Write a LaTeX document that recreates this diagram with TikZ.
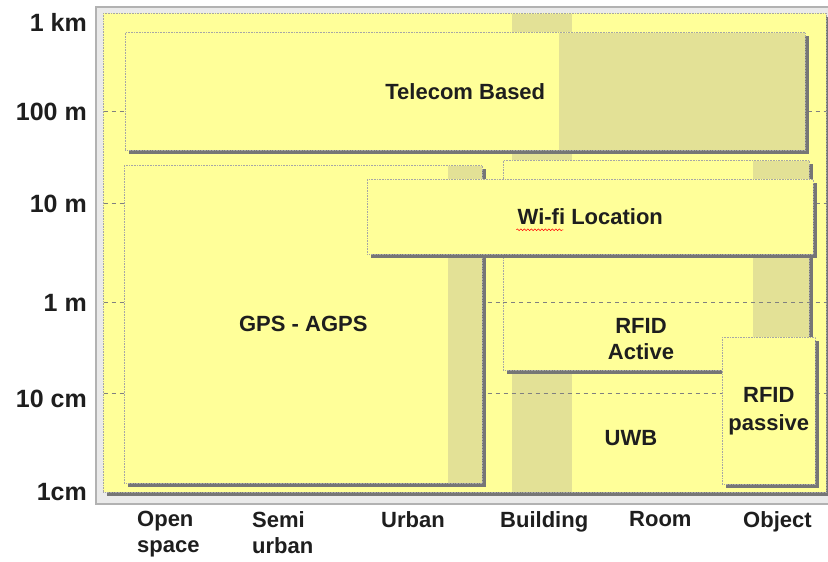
\documentclass[tikz,border=0pt]{standalone}
\usepackage{fontspec}
\setmainfont{Liberation Sans}
\usepackage{xcolor}
\usetikzlibrary{shadows}
\usetikzlibrary{calc}
\usetikzlibrary{decorations.pathmorphing}
\definecolor{chartyellow}{RGB}{255,255,153}
\definecolor{chartkhaki}{RGB}{227,225,150}
\definecolor{shadowgray}{RGB}{118,118,118}
\definecolor{framegray}{RGB}{234,234,234}
\definecolor{labelink}{RGB}{30,30,30}
\tikzstyle{techbox} = [rectangle, anchor=north west, inner sep=0pt, draw=gray!70, densely dotted, line width=0.6pt, fill=chartyellow, drop shadow={shadow xshift=3.2pt, shadow yshift=-3.2pt, fill=shadowgray, opacity=1}, font=\fontsize{22}{28}\selectfont\bfseries, text=labelink, align=center]
\tikzstyle{boxlabel} = [inner sep=0pt, font=\fontsize{22}{26}\selectfont\bfseries, text=labelink, align=center]
\tikzstyle{axislabel} = [anchor=east, inner sep=0pt, font=\fontsize{25}{29}\selectfont\bfseries, text=labelink]
\tikzstyle{classlabel} = [anchor=north west, inner sep=0pt, font=\fontsize{22}{26}\selectfont\bfseries, text=labelink, align=left]
\tikzstyle{gridline} = [draw=gray, line width=0.8pt, dash pattern=on 4pt off 4pt]

\begin{document}
\begin{tikzpicture}[x=1pt, y=-1pt]
    \useasboundingbox (0,0) rectangle (828,562);

    % frame and plot area
    \fill[white] (0,0) rectangle (828,562);
    \draw[fill=framegray, draw=gray!60, line width=1.5pt] (96,7) rectangle (840,504);
    \node (panel) [techbox, minimum width=723pt, minimum height=479pt] at (103,13) {};
    \fill[chartkhaki] (512,13.5) rectangle (572,492);

    % range levels
    \foreach \level in {111,203,302,393}
        \draw[gridline] (103.5,\level) -- (825.5,\level);

    % technologies
    \node (telecom) [techbox, minimum width=680pt, minimum height=118pt] at (125,32) {Telecom Based};
    \fill[chartkhaki] ([xshift=-247pt,yshift=-0.5pt]telecom.north east) rectangle ([shift={(-0.5pt,0.5pt)}]telecom.south east);

    \node (gps) [techbox, minimum width=358pt, minimum height=318pt] at (124,165) {GPS - AGPS};
    \fill[chartkhaki] ([xshift=-35pt,yshift=-0.5pt]gps.north east) rectangle ([shift={(-0.5pt,0.5pt)}]gps.south east);

    \node (rfidact) [techbox, minimum width=306pt, minimum height=210pt] at (503,160) {};
    \fill[chartkhaki] ([xshift=-57pt,yshift=-0.5pt]rfidact.north east) rectangle ([shift={(-0.5pt,0.5pt)}]rfidact.south east);
    \draw[gridline] (rfidact.west |- 0,302) -- (rfidact.east |- 0,302);
    \node (rfidactlabel) [boxlabel] at (641,339) {RFID\\Active};

    \node (wifi) [techbox, minimum width=446pt, minimum height=75pt] at (367,179) {Wi-fi Location};
    \draw[red, line width=0.5pt, decorate, decoration={snake, amplitude=0.9pt, segment length=3.5pt}]
        ($(wifi.center)+(-74,13)$) -- ($(wifi.center)+(-27,13)$);

    \node (rfidpas) [techbox, minimum width=93pt, minimum height=147pt] at (722,337) {RFID\\passive};
    \node (uwb) [boxlabel] at (631,438) {UWB};

    % distance axis
    \node (ykm) [axislabel] at (87,22) {1 km};
    \node (yhm) [axislabel] at (87,112) {100 m};
    \node (ytm) [axislabel] at (87,204) {10 m};
    \node (yom) [axislabel] at (87,303) {1 m};
    \node (ytcm) [axislabel] at (87,399) {10 cm};
    \node (yocm) [axislabel] at (87,492) {1cm};

    % environment axis
    \node (open) [classlabel] at (137,511) {Open\\space};
    \node (semi) [classlabel] at (252,511) {Semi\\urban};
    \node (urban) [classlabel] at (381,511) {Urban};
    \node (building) [classlabel] at (500,511) {Building};
    \node (room) [classlabel] at (629,511) {Room};
    \node (object) [classlabel] at (743,511) {Object};

\end{tikzpicture}
\end{document}
